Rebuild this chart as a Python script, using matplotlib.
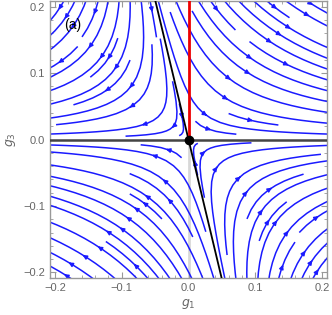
import numpy as np
import matplotlib
matplotlib.use('Agg')
import matplotlib.pyplot as plt
from matplotlib.ticker import MultipleLocator

# ---- chart values ----
g1_lim = [-0.2075, 0.2075]
g3_lim = [-0.2083, 0.2083]
major_ticks = [-0.2, -0.1, 0.0, 0.1, 0.2]
tick_labels = ['\u22120.2', '\u22120.1', '0.0', '0.1', '0.2']
mu = 1.2        # growth rate along the g3 = 0 direction
nu = 1.0        # decay rate along the separatrix
k_sep = 4.2     # separatrix: g3 = -k_sep * g1
fixed_point = [0.0, 0.0]
red_line_g3 = [0.0, 0.2083]
panel_label = '(a)'

plt.rcParams['font.family'] = ['Liberation Sans', 'DejaVu Sans']

fig = plt.figure(figsize=(3.32, 3.15), dpi=100)
ax = fig.add_axes([50/332, 1-278/315, 277/332, 277/315])

g1 = np.linspace(-0.215, 0.215, 240)
g3 = np.linspace(-0.215, 0.215, 240)
G1, G3 = np.meshgrid(g1, g3)
U = mu*G1 + (mu+nu)/k_sep*G3
V = -nu*G3

kw = dict(density=0.95, color='#1a1aff', linewidth=1.1, arrowsize=0.6,
          arrowstyle='-|>', minlength=0.12)
try:
    ax.streamplot(G1, G3, U, V, num_arrows=4, **kw)
except TypeError:
    ax.streamplot(G1, G3, U, V, **kw)

# axes lines
ax.axhline(0, color='#444444', lw=1.8, zorder=3)
ax.plot([0, 0], [g3_lim[0], 0], color='#d8d8d8', lw=2, zorder=1)
# separatrix
sep_g1 = np.array([-0.06, 0.06])
ax.plot(sep_g1, -k_sep*sep_g1, color='black', lw=1.3, zorder=4)
# red line
ax.plot([0, 0], red_line_g3, color='#ee0000', lw=2, zorder=5)
ax.plot(fixed_point[0], fixed_point[1], 'o', color='black', ms=6, zorder=6)

ax.text(-0.186, 0.172, panel_label, fontsize=10, color='black',
        ha='left', va='center', zorder=7)

ax.set_xlim(g1_lim)
ax.set_ylim(g3_lim)
ax.set_xticks(major_ticks)
ax.set_xticklabels(tick_labels)
ax.set_yticks(major_ticks)
ax.set_yticklabels(tick_labels)
ax.xaxis.set_minor_locator(MultipleLocator(0.02))
ax.yaxis.set_minor_locator(MultipleLocator(0.02))
ax.tick_params(which='both', direction='in', top=True, right=True,
               color='#999999', labelcolor='#666666', labelsize=8)
ax.tick_params(which='major', length=4, width=0.8)
ax.tick_params(which='minor', length=2, width=0.6)
for s in ax.spines.values():
    s.set_color('#999999')
    s.set_linewidth(1.0)

ax.set_xlabel('$g_1$', color='#666666', fontsize=9, labelpad=3)
ax.set_ylabel('$g_3$', color='#666666', fontsize=9, labelpad=4)

fig.savefig('out.png', dpi=100)
